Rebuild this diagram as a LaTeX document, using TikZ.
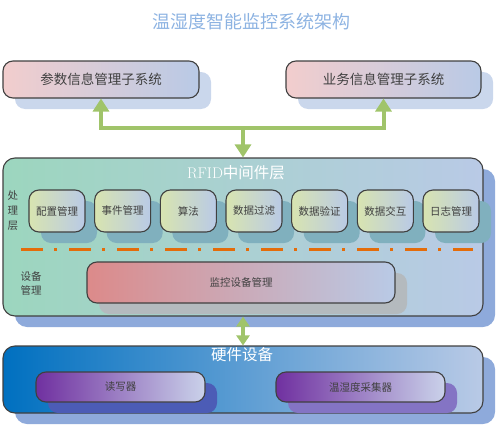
\documentclass[tikz,border=0pt]{standalone}
\usepackage{fontspec}
\newfontfamily\cjk{Noto Sans CJK SC}
\usetikzlibrary{arrows.meta,shadows}

\definecolor{boxline}{RGB}{64,64,64}
\definecolor{labeltext}{RGB}{64,64,64}
\definecolor{titleblue}{RGB}{141,179,226}
\definecolor{pinkl}{RGB}{242,205,205}
\definecolor{bluer}{RGB}{185,202,230}
\definecolor{greenl}{RGB}{156,214,190}
\definecolor{olivel}{RGB}{216,228,176}
\definecolor{redl}{RGB}{220,138,138}
\definecolor{hwblue}{RGB}{0,112,192}
\definecolor{purplel}{RGB}{112,48,160}
\definecolor{lilacr}{RGB}{202,210,234}
\definecolor{shadetop}{RGB}{202,215,236}
\definecolor{shademid}{RGB}{142,170,219}
\definecolor{shadeproc}{RGB}{128,176,190}
\definecolor{shademon}{RGB}{180,186,190}
\definecolor{shaderw}{RGB}{76,92,182}
\definecolor{shadeth}{RGB}{132,116,196}
\definecolor{arrowgreen}{RGB}{160,196,106}
\definecolor{dashorange}{RGB}{228,108,10}

\tikzset{
  box/.style={draw=boxline, line width=1.1pt, rounded corners=10pt, inner sep=0pt,
    text=labeltext, font=\cjk\fontsize{10.5}{12}\selectfont},
  shade/.style={drop shadow={shadow xshift=12pt, shadow yshift=-11pt, fill=#1, opacity=1}},
  garrow/.style={draw=arrowgreen, line width=4pt,
    -{Triangle[width=16pt,length=13pt]}},
}

\begin{document}
\begin{tikzpicture}[x=1pt,y=-1pt]
  \useasboundingbox (0,0) rectangle (500,428);

  % title
  \node [text=titleblue, font=\cjk\fontsize{18}{20}\selectfont] (title) at (251,22) {温湿度智能监控系统架构};

  % application subsystems
  \node [box, shade=shadetop, left color=pinkl, right color=bluer,
    minimum width=196pt, minimum height=37pt, font=\cjk\fontsize{13.5}{15}\selectfont]
    (param) at (101,79.5) {参数信息管理子系统};
  \node [box, shade=shadetop, left color=pinkl, right color=bluer,
    minimum width=195pt, minimum height=37pt, font=\cjk\fontsize{13.5}{15}\selectfont]
    (biz) at (383.5,79.5) {业务信息管理子系统};

  % middleware layer
  \node [box, rounded corners=12pt, shade=shademid, left color=greenl, right color=bluer,
    minimum width=480pt, minimum height=158pt] (mid) at (243,237) {};
  \node [text=white, font=\cjk\fontsize{15.5}{17}\selectfont] (midtitle) at (236,173) {{\rmfamily RFID}中间件层};
  \node [text=labeltext, font=\cjk\fontsize{10.5}{15}\selectfont, align=center] (proc) at (13,211) {处\\理\\层};
  \foreach \name/\txt [count=\i from 0] in {cfg/配置管理, evt/事件管理, alg/算法,
      filt/数据过滤, check/数据验证, xchg/数据交互, log/日志管理}
    \node [box, shade=shadeproc, left color=olivel, right color=bluer,
      minimum width=56pt, minimum height=42pt] (\name) at (57+65.67*\i,211) {\txt};
  \draw [dashorange, line width=3pt, dash pattern=on 22pt off 11pt on 3pt off 12pt]
    (21,249) -- (473,249);
  \node [text=labeltext, font=\cjk\fontsize{10.5}{14}\selectfont, align=center] (devmgr) at (31,283) {设备\\管理};
  \node [box, shade=shademon, left color=redl, right color=bluer,
    minimum width=308pt, minimum height=41pt] (mon) at (241,282.5) {监控设备管理};

  % hardware layer
  \node [box, rounded corners=12pt, shade=shademid, left color=hwblue, right color=bluer,
    minimum width=480pt, minimum height=67pt] (hw) at (243,379.5) {};
  \node [text=white, font=\cjk\fontsize{15.5}{17}\selectfont] (hwtitle) at (242,355) {硬件设备};
  \node [box, shade=shaderw, left color=purplel, right color=lilacr,
    minimum width=169pt, minimum height=30pt] (rw) at (120.5,387) {读写器};
  \node [box, shade=shadeth, left color=purplel, right color=lilacr,
    minimum width=169pt, minimum height=30pt] (th) at (360.5,387) {温湿度采集器};

  % connectors
  \coordinate (hub) at (243,128);
  \draw [garrow] (hub) -| (param.south);
  \draw [garrow] (hub) -| (biz.south);
  \draw [garrow] (hub) -- (mid.north);
  \draw [garrow, line width=3.5pt, {Triangle[width=13pt,length=10pt]}-{Triangle[width=13pt,length=10pt]}]
    (mid.south) -- (hw.north);
\end{tikzpicture}
\end{document}
